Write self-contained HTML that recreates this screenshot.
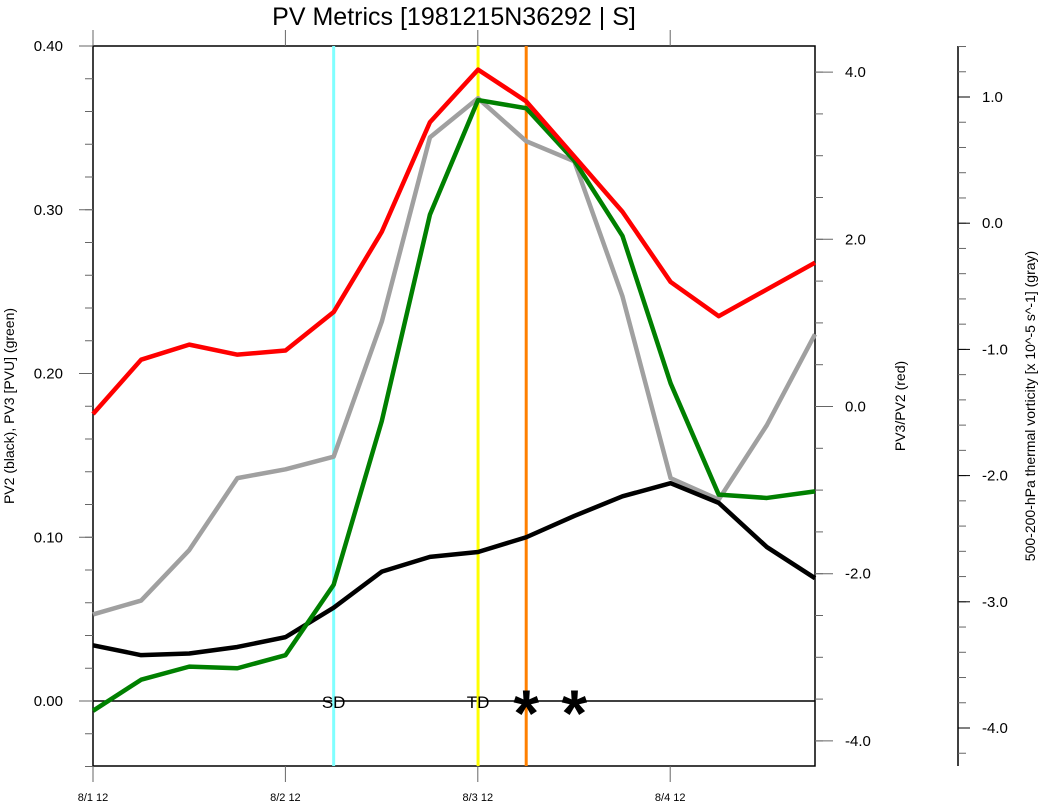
<!DOCTYPE html>
<html><head><meta charset="utf-8"><style>
html,body{margin:0;padding:0;background:#fff;}
svg{display:block;font-family:"Liberation Sans",Arial,sans-serif;}
</style></head><body>
<svg id="chart" width="1042" height="805" viewBox="0 0 1042 805" xmlns="http://www.w3.org/2000/svg">
<text x="454" y="25" font-size="25" text-anchor="middle">PV Metrics [1981215N36292 | S]</text>
<text transform="translate(14,406) rotate(-90)" font-size="14" text-anchor="middle">PV2 (black), PV3 [PVU] (green)</text>
<text transform="translate(905,406) rotate(-90)" font-size="14" text-anchor="middle">PV3/PV2 (red)</text>
<text transform="translate(1035,406) rotate(-90)" font-size="14" text-anchor="middle">500-200-hPa thermal vorticity [x 10^-5 s^-1] (gray)</text>
<g id="grid"></g>
<g id="marks"></g>
</svg>
<script>
const xTickLabels = ["8/1 12","8/2 12","8/3 12","8/4 12"];
const leftTicks = [0.00,0.10,0.20,0.30,0.40];
const redTicks = [-4.0,-2.0,0.0,2.0,4.0];
const grayTicks = [-4.0,-3.0,-2.0,-1.0,0.0,1.0];
const ratioRed = [-0.09,0.56,0.74,0.62,0.67,1.13,2.09,3.40,4.03,3.65,2.99,2.33,1.49,1.08,1.40,1.72];
const pv3Green = [-0.006,0.013,0.021,0.020,0.028,0.071,0.171,0.297,0.367,0.362,0.330,0.284,0.194,0.126,0.124,0.128];
const pv2Black = [0.034,0.028,0.029,0.033,0.039,0.057,0.079,0.088,0.091,0.100,0.113,0.125,0.133,0.121,0.094,0.075];
const vortGray = [-3.10,-2.99,-2.59,-2.02,-1.95,-1.85,-0.78,0.68,0.99,0.65,0.49,-0.58,-2.02,-2.19,-1.60,-0.88];
const eventIdx = [5,8,9];
const eventLabels = ["SD","TD",""];
const eventColors = ["#80ffff","#ffff00","#ff8000"];
const starIdx = [9,10];

const NS="http://www.w3.org/2000/svg";
const X0=93,X1=815,Y0=46,Y1=766;
const xs=i=>X0+i*(X1-X0)/15;
const yL=v=>701-v*1637.5;
const yR=v=>406.5-v*83.6;
const yG=v=>223.2-v*126.2;
const grid=document.getElementById('grid'), marks=document.getElementById('marks');
function mk(tag,attrs,parent,text){const e=document.createElementNS(NS,tag);for(const k in attrs)e.setAttribute(k,attrs[k]);if(text!==undefined)e.textContent=text;parent.appendChild(e);return e;}

const fr=mk('rect',{x:X0,y:Y0,width:X1-X0,height:Y1-Y0,fill:'none',stroke:'#000','stroke-width':1.5},grid);


for(let d=0;d<4;d++){const x=X0+d*192.4;
 mk('line',{x1:x,y1:Y0,x2:x,y2:Y0-16,stroke:'#666'},grid);
 mk('line',{x1:x,y1:Y1,x2:x,y2:Y1+16,stroke:'#666'},grid);
 const t=mk('text',{x:x,y:801,'font-size':11,'text-anchor':'middle'},grid,xTickLabels[d]);
 
 
}
for(let v=-0.04;v<=0.401;v+=0.02){const y=yL(v);mk('line',{x1:X0,y1:y,x2:X0-8,y2:y,stroke:'#666'},grid);}
leftTicks.forEach(v=>{const y=yL(v);mk('line',{x1:X0,y1:y,x2:X0-14,y2:y,stroke:'#666'},grid);
 const t=mk('text',{x:63,y:y+5,'font-size':15,'text-anchor':'end'},grid,v.toFixed(2));
 
 });
for(let v=-4;v<=4.6;v+=0.5){const y=yR(v);if(y<Y0||y>Y1)continue;mk('line',{x1:X1,y1:y,x2:X1+8,y2:y,stroke:'#666'},grid);}
redTicks.forEach(v=>{const y=yR(v);mk('line',{x1:X1,y1:y,x2:X1+18,y2:y,stroke:'#666'},grid);
 const t=mk('text',{x:845,y:y+5,'font-size':15},grid,v.toFixed(1));
 
 });
const GX=958;
mk('line',{x1:GX,y1:Y0,x2:GX,y2:Y1,stroke:'#000','stroke-width':1.5},grid);
for(let v=-4.4;v<=1.41;v+=0.2){const y=yG(v);if(y<Y0-1||y>Y1+1)continue;mk('line',{x1:GX,y1:y,x2:GX+8,y2:y,stroke:'#666'},grid);}
grayTicks.forEach(v=>{const y=yG(v);mk('line',{x1:GX,y1:y,x2:GX+12,y2:y,stroke:'#000'},grid);
 const t=mk('text',{x:982,y:y+5,'font-size':15},grid,v.toFixed(1));
 
 });
const zl=mk('line',{x1:X0,y1:yL(0),x2:X1,y2:yL(0),stroke:'#000','stroke-width':1.5},marks);


eventIdx.forEach((idx,k)=>{const x=xs(idx);
 const l=mk('line',{x1:x,y1:Y0,x2:x,y2:Y1,stroke:eventColors[k],'stroke-width':3},marks);
 
 
});
function series(arr,fy,color,name){
 const p=mk('polyline',{points:arr.map((v,i)=>xs(i)+','+fy(v)).join(' '),fill:'none',stroke:color,'stroke-width':4.5,'stroke-linejoin':'round'},marks);
 
 
}
series(vortGray,yG,'#a0a0a0','thermal-vorticity-line');
series(pv2Black,yL,'#000','pv2-line');
series(pv3Green,yL,'#008000','pv3-line');
series(ratioRed,yR,'#ff0000','pv3-pv2-ratio-line');
eventIdx.forEach((idx,k)=>{if(!eventLabels[k])return;
 const t=mk('text',{x:xs(idx),y:708,'font-size':17,'text-anchor':'middle'},marks,eventLabels[k]);
 
 });
starIdx.forEach(idx=>{
 const t=mk('text',{x:xs(idx),y:736,'font-size':66,'font-weight':'bold','text-anchor':'middle'},marks,'*');
 
 });
</script>
</body></html>
